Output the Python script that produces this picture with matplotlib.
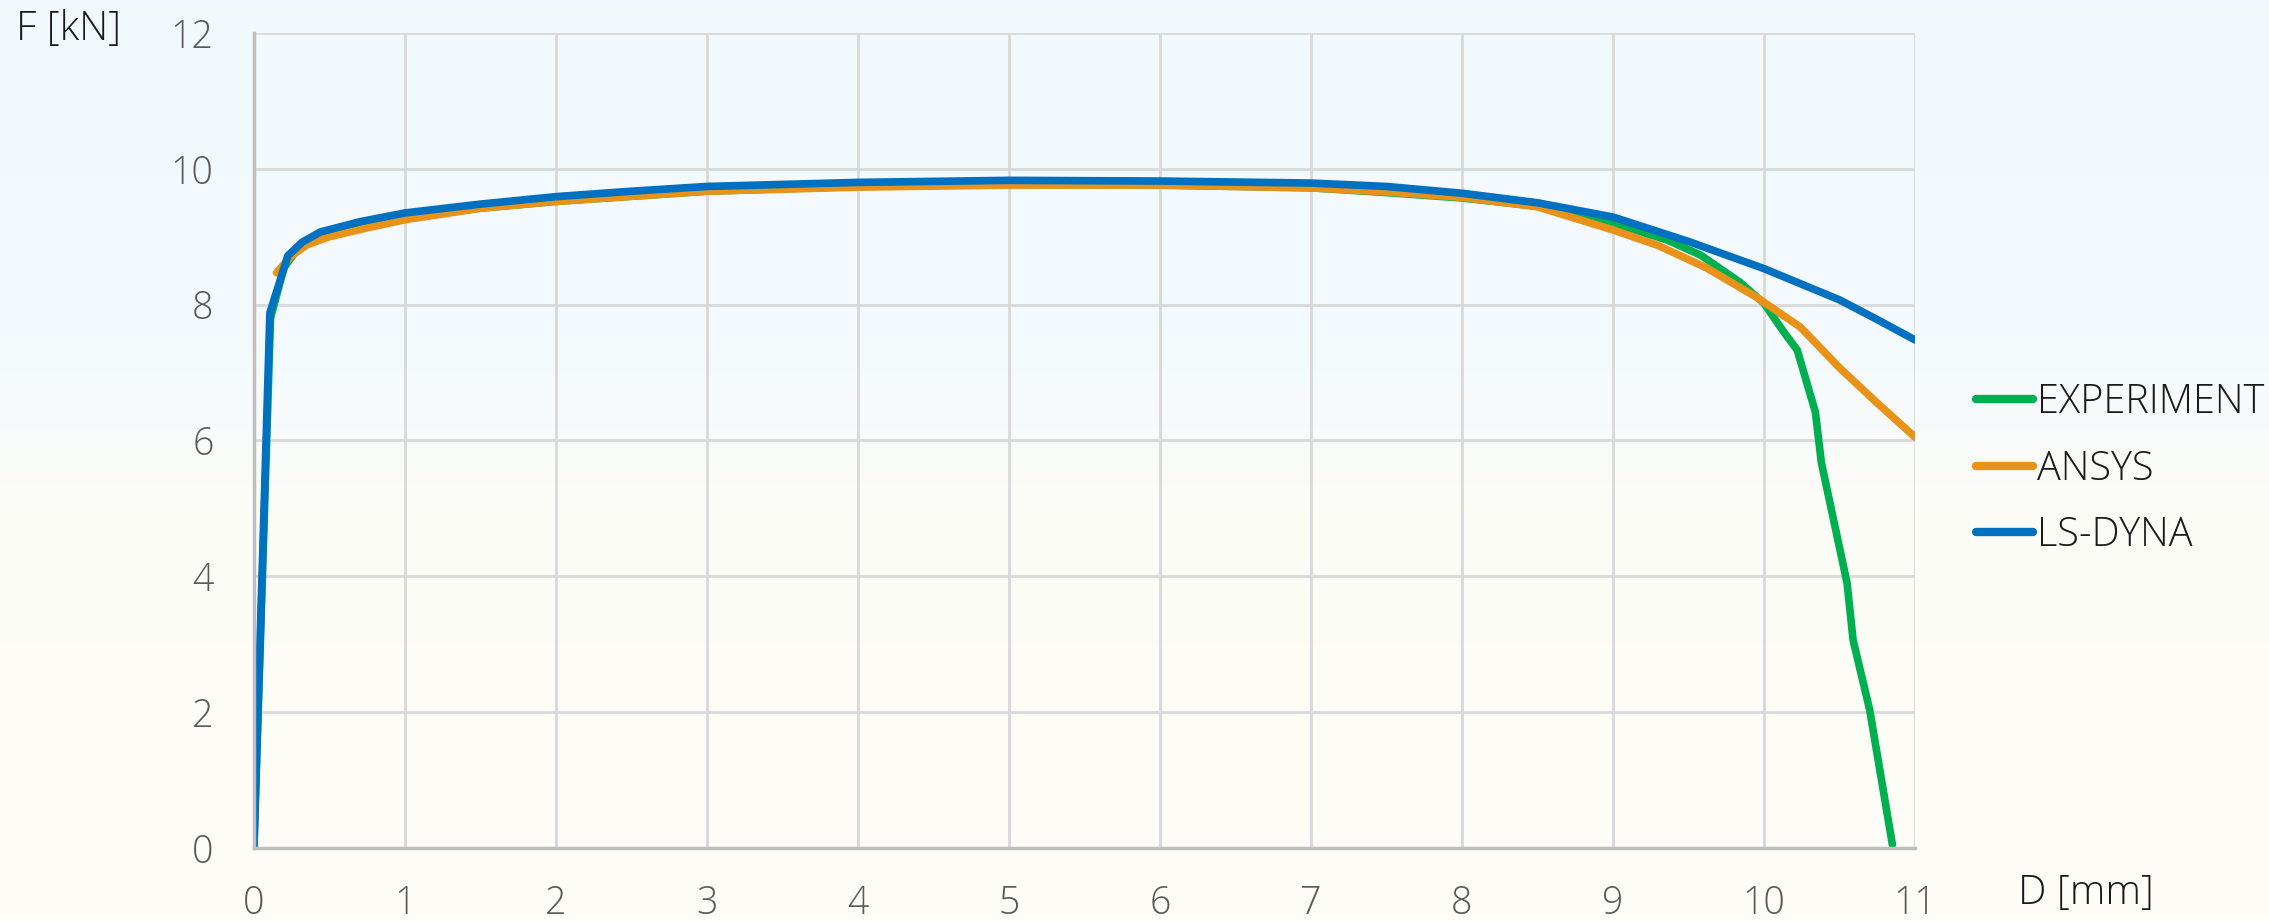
import numpy as np
import matplotlib
matplotlib.use("Agg")
import matplotlib.pyplot as plt
from matplotlib.colors import LinearSegmentedColormap

# force [kN] vs displacement [mm]
exp_d = [0, 0.11, 0.2, 0.3, 0.45, 0.7, 1.0, 1.5, 2, 3, 4, 5, 6, 7, 7.5, 8, 8.5,
         9, 9.36, 9.58, 9.84, 10.0, 10.13, 10.22, 10.34, 10.38, 10.55, 10.59,
         10.70, 10.85]
exp_f = [0, 7.8, 8.55, 8.85, 9.0, 9.15, 9.27, 9.42, 9.52, 9.67, 9.74, 9.77,
         9.76, 9.72, 9.65, 9.57, 9.45, 9.2, 8.95, 8.73, 8.33, 8.02, 7.6, 7.33,
         6.42, 5.67, 3.9, 3.06, 2.03, 0.05]

ansys_d = [0.15, 0.25, 0.35, 0.5, 0.75, 1.0, 1.5, 2, 3, 4, 5, 6, 7, 7.5, 8,
           8.5, 9, 9.3, 9.62, 9.95, 10.24, 10.5, 10.75, 11.0]
ansys_f = [8.47, 8.72, 8.88, 9.0, 9.13, 9.25, 9.42, 9.52, 9.67, 9.73, 9.76,
           9.76, 9.72, 9.66, 9.58, 9.44, 9.10, 8.87, 8.54, 8.11, 7.67, 7.07,
           6.55, 6.05]

dyna_d = [0, 0.106, 0.225, 0.32, 0.44, 0.7, 1.0, 1.5, 2, 2.5, 3, 4, 5, 6, 7,
          7.5, 8, 8.5, 9, 9.5, 10, 10.5, 10.75, 11]
dyna_f = [0, 7.88, 8.72, 8.92, 9.07, 9.22, 9.35, 9.48, 9.59, 9.67, 9.74, 9.80,
          9.83, 9.82, 9.79, 9.74, 9.64, 9.50, 9.29, 8.93, 8.53, 8.07, 7.78, 7.48]

series = [("EXPERIMENT", exp_d, exp_f, "#00B050"),
          ("ANSYS", ansys_d, ansys_f, "#E8921A"),
          ("LS-DYNA", dyna_d, dyna_f, "#0070C0")]

x_ticks = list(range(0, 12))
y_ticks = list(range(0, 13, 2))

plt.rcParams["font.family"] = ["Open Sans", "DejaVu Sans"]

fig = plt.figure(figsize=(22.69, 9.21), dpi=100)

# background gradient (light blue on top, cream at the bottom)
bg = fig.add_axes([0, 0, 1, 1], zorder=-10)
cmap = LinearSegmentedColormap.from_list(
    "bg", [(0.0, "#FFFDF6"), (0.45, "#FCFCF8"), (0.62, "#F4FAFD"), (1.0, "#F2F9FE")])
grad = np.linspace(0, 1, 256).reshape(-1, 1)
bg.imshow(grad, aspect="auto", cmap=cmap, origin="lower", extent=[0, 1, 0, 1])
bg.axis("off")

ax = fig.add_axes([0.1119, 0.0793, 0.7321, 0.8849])
ax.set_facecolor("none")

for name, d, f, col in series:
    ax.plot(d, f, color=col, lw=5.5, label=name, solid_capstyle="round",
            solid_joinstyle="round")

ax.set_xlim(0, 11)
ax.set_ylim(0, 12)
ax.set_xticks(x_ticks)
ax.set_yticks(y_ticks)
ax.grid(True, color="#D9D9D9", lw=2)
ax.set_axisbelow(True)
for s in ["top", "right"]:
    ax.spines[s].set_visible(False)
for s in ["left", "bottom"]:
    ax.spines[s].set_color("#BFBFBF")
    ax.spines[s].set_linewidth(2.5)

ax.tick_params(axis="both", length=0, labelsize=27, labelcolor="#595959")
ax.tick_params(axis="x", pad=26)
ax.tick_params(axis="y", pad=29)
for lab in ax.get_xticklabels() + ax.get_yticklabels():
    lab.set_fontweight("light")

fig.text(68 / 2269, 1 - 30 / 921, "F [kN]", fontsize=29, color="#1A1A1A",
         ha="center", va="center", fontweight="light")
fig.text(2086 / 2269, 1 - 893 / 921, "D [mm]", fontsize=29, color="#1A1A1A",
         ha="center", va="center", fontweight="light")

leg = fig.legend(loc="center left", bbox_to_anchor=(1956 / 2269, 1 - 469 / 921),
                 frameon=False, fontsize=28.5, handlelength=1.45, handletextpad=0.1,
                 labelspacing=0.64, borderpad=0)
for t in leg.get_texts():
    t.set_fontweight("light")
    t.set_color("#1A1A1A")
for h in leg.get_lines():
    h.set_linewidth(6)

fig.savefig("out.png", dpi=100)
